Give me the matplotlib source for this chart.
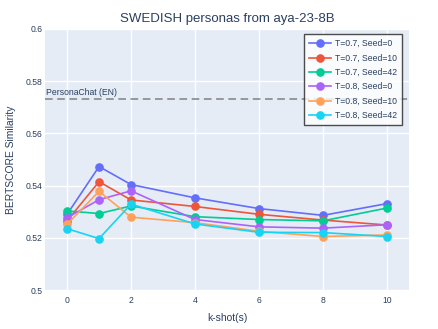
import matplotlib.pyplot as plt

# k-shot values and BERTScore similarity per run
kshots = [0, 1, 2, 4, 6, 8, 10]
t07_s0 = [0.5290, 0.5473, 0.5404, 0.5353, 0.5312, 0.5286, 0.5331]
t07_s10 = [0.5265, 0.5415, 0.5345, 0.5320, 0.5290, 0.5268, 0.5249]
t07_s42 = [0.5303, 0.5293, 0.5322, 0.5281, 0.5270, 0.5265, 0.5314]
t08_s0 = [0.5277, 0.5346, 0.5380, 0.5270, 0.5242, 0.5237, 0.5250]
t08_s10 = [0.5252, 0.5378, 0.5279, 0.5258, 0.5225, 0.5205, 0.5211]
t08_s42 = [0.5235, 0.5197, 0.5329, 0.5253, 0.5221, 0.5220, 0.5205]

series = [t07_s0, t07_s10, t07_s42, t08_s0, t08_s10, t08_s42]
labels = ['T=0.7, Seed=0', 'T=0.7, Seed=10', 'T=0.7, Seed=42',
          'T=0.8, Seed=0', 'T=0.8, Seed=10', 'T=0.8, Seed=42']
colors = ['#636EFA', '#EF553B', '#00CC96', '#AB63FA', '#FFA15A', '#19D3F3']

baseline = 0.5732
baseline_label = 'PersonaChat (EN)'

yticks = [0.5, 0.52, 0.54, 0.56, 0.58, 0.6]
ytick_labels = ['0.5', '0.52', '0.54', '0.56', '0.58', '0.6']
xticks = [0, 2, 4, 6, 8, 10]

txt = '#2a3f5f'
plt.rcParams['font.family'] = ['Liberation Sans', 'DejaVu Sans']

fig = plt.figure(figsize=(4.39, 3.29), dpi=100)
ax = fig.add_axes([0.1025, 0.1185, 0.8292, 0.7934])
ax.set_facecolor('#E5ECF6')

for s, lab, c in zip(series, labels, colors):
    ax.plot(kshots, s, color=c, lw=1.2, marker='o', ms=5.2, label=lab, zorder=3)

ax.axhline(baseline, color='grey', lw=1.1, ls=(0, (5, 3)), zorder=2)
ax.text(-0.65, baseline + 0.0008, baseline_label, fontsize=6.2, color=txt,
        va='bottom', ha='left')

ax.set_xlim(-0.69, 10.69)
ax.set_ylim(0.5, 0.6)
ax.set_xticks(xticks)
ax.set_yticks(yticks)
ax.set_yticklabels(ytick_labels)
ax.grid(color='white', lw=1)
ax.set_axisbelow(True)
for sp in ax.spines.values():
    sp.set_visible(False)
ax.tick_params(length=0, labelsize=6.2, labelcolor=txt)
ax.tick_params(axis='x', pad=4)
ax.tick_params(axis='y', pad=2)

ax.set_title('SWEDISH personas from aya-23-8B', fontsize=9.5, color=txt, pad=5)
ax.set_xlabel('k-shot(s)', fontsize=7.4, color=txt, labelpad=6)
ax.set_ylabel('BERTSCORE Similarity', fontsize=7.4, color=txt, labelpad=7)

leg = ax.legend(loc='upper right', bbox_to_anchor=(0.992, 0.997), fontsize=6.2,
                frameon=True, fancybox=False, edgecolor='#222222',
                labelcolor=txt, handlelength=2.6, borderpad=0.6,
                labelspacing=0.62, handletextpad=0.4)
leg.get_frame().set_linewidth(1)
leg.get_frame().set_facecolor('white')
leg.get_frame().set_alpha(0.8)

fig.savefig('out.png', dpi=100)
